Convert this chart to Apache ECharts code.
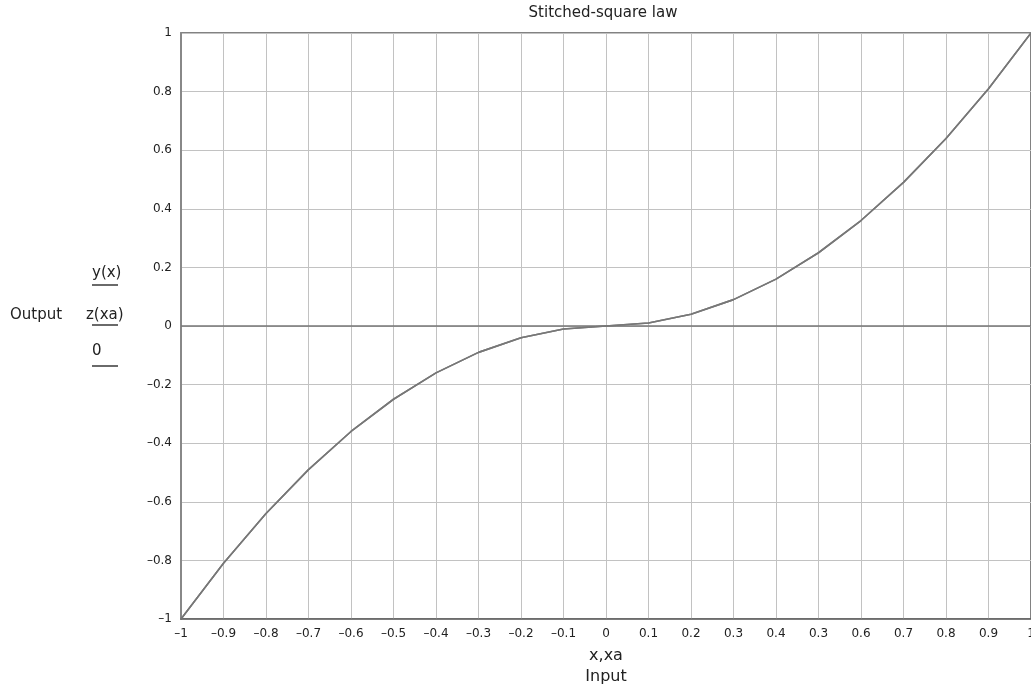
<!DOCTYPE html>
<html>
<head>
<meta charset="utf-8">
<script src="https://cdn.jsdelivr.net/npm/echarts@6/dist/echarts.min.js"></script>
<style>
  html, body { margin: 0; padding: 0; background: #fff; }
  #chart { width: 1031px; height: 691px; }
</style>
</head>
<body>
<div id="chart"></div>
<script>
// Input samples
var inputX = [-1, -0.9, -0.8, -0.7, -0.6, -0.5, -0.4, -0.3, -0.2, -0.1, 0,
              0.1, 0.2, 0.3, 0.4, 0.5, 0.6, 0.7, 0.8, 0.9, 1];
// Stitched-square output y(x)
var outY = [-1, -0.81, -0.64, -0.49, -0.36, -0.25, -0.16, -0.09, -0.04, -0.01, 0,
            0.01, 0.04, 0.09, 0.16, 0.25, 0.36, 0.49, 0.64, 0.81, 1];
// Output z(xa)
var outZ = [-1, -0.81, -0.64, -0.49, -0.36, -0.25, -0.16, -0.09, -0.04, -0.01, 0,
            0.01, 0.04, 0.09, 0.16, 0.25, 0.36, 0.49, 0.64, 0.81, 1];
// Zero reference
var outZero = [0, 0, 0, 0, 0, 0, 0, 0, 0, 0, 0, 0, 0, 0, 0, 0, 0, 0, 0, 0, 0];

// Tick labels along the input axis
var xTickLabels = ['–1', '–0.9', '–0.8', '–0.7', '–0.6', '–0.5', '–0.4', '–0.3', '–0.2', '–0.1', '0',
                   '0.1', '0.2', '0.3', '0.4', '0.3', '0.6', '0.7', '0.8', '0.9', '1'];
var yTickLabels = ['–1', '–0.8', '–0.6', '–0.4', '–0.2', '0', '0.2', '0.4', '0.6', '0.8', '1'];

var seriesNames = ['y(x)', 'z(xa)', '0'];

function pairs(xs, ys) {
  return xs.map(function (x, i) { return [x, ys[i]]; });
}

var chart = echarts.init(document.getElementById('chart'), null, { renderer: 'canvas' });
var font = '"DejaVu Sans", Verdana, sans-serif';
var lineColor = '#777';

// Hand-placed key: each name sits above a short sample of its line
var keyGraphics = [];
var keyTextX = [92, 86, 92];
var keyTextY = [273, 315, 351];
var keyLineY = [285, 325, 366];
seriesNames.forEach(function (n, i) {
  keyGraphics.push({
    type: 'text', x: keyTextX[i], y: keyTextY[i],
    style: { text: n, font: '15px ' + font, fill: '#222', textAlign: 'left', textVerticalAlign: 'middle' }
  });
  keyGraphics.push({
    type: 'line', shape: { x1: 92, y1: keyLineY[i], x2: 118, y2: keyLineY[i] },
    style: { stroke: '#6a6a6a', lineWidth: 2 }
  });
});
keyGraphics.push({
  type: 'text', x: 10, y: 315,
  style: { text: 'Output', font: '15px ' + font, fill: '#222', textAlign: 'left', textVerticalAlign: 'middle' }
});
keyGraphics.push({
  type: 'text', x: 603, y: 13,
  style: { text: 'Stitched-square law', font: '15px ' + font, fill: '#222', textAlign: 'center', textVerticalAlign: 'middle' }
});

chart.setOption({
  animation: false,
  backgroundColor: '#fff',
  grid: {
    left: 181, right: 0, top: 33, bottom: 72,
    containLabel: false, outerBoundsMode: 'none',
    show: true, borderColor: '#5a5a5a', borderWidth: 1.5, backgroundColor: 'transparent'
  },
  xAxis: {
    type: 'value', min: -1, max: 1, interval: 0.1,
    name: 'x,xa\nInput', nameLocation: 'middle', nameGap: 21,
    nameTextStyle: { fontFamily: font, fontSize: 16, color: '#222', lineHeight: 21, verticalAlign: 'top' },
    axisLine: { show: true, onZero: false, lineStyle: { color: '#666', width: 1.5 } },
    axisTick: { show: false },
    axisLabel: {
      margin: 9, fontFamily: font, fontSize: 12, color: '#222',
      showMinLabel: true, showMaxLabel: true, hideOverlap: false,
      formatter: function (v) {
        var i = Math.round((v + 1) * 10);
        return xTickLabels[i];
      }
    },
    splitLine: { show: true, lineStyle: { color: '#c2c2c2', width: 1 } }
  },
  yAxis: {
    type: 'value', min: -1, max: 1, interval: 0.2,
    axisLine: { show: true, onZero: false, lineStyle: { color: '#888', width: 2 } },
    axisTick: { show: false },
    axisLabel: {
      margin: 9, fontFamily: font, fontSize: 12, color: '#222',
      formatter: function (v) {
        var i = Math.round((v + 1) * 5);
        return yTickLabels[i];
      }
    },
    splitLine: { show: true, lineStyle: { color: '#c2c2c2', width: 1 } }
  },
  series: [
    {
      name: seriesNames[0], type: 'line', data: pairs(inputX, outY),
      showSymbol: false, lineStyle: { color: lineColor, width: 1.6 }, z: 4
    },
    {
      name: seriesNames[1], type: 'line', data: pairs(inputX, outZ),
      showSymbol: false, lineStyle: { color: lineColor, width: 1.6 }, z: 3
    },
    {
      name: seriesNames[2], type: 'line', data: pairs(inputX, outZero),
      showSymbol: false, lineStyle: { color: lineColor, width: 1.6 }, z: 2
    }
  ],
  graphic: keyGraphics
});
</script>
</body>
</html>
